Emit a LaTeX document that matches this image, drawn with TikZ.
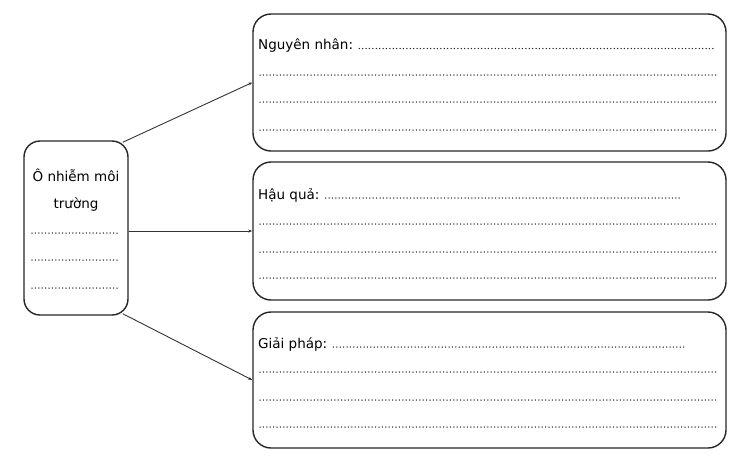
\documentclass[tikz,border=0pt]{standalone}
\usepackage{fontspec}
\setmainfont{DejaVu Sans}
\usetikzlibrary{calc, arrows.meta}
\tikzset{ frame/.style = {draw=black!85, line width=1.4pt, rounded corners=18pt},
  dotrow/.style = {draw=black!85, line width=1.5pt, line cap=round, dash pattern=on 0pt off 3.4pt},
  link/.style = {draw=black!80, line width=0.9pt, -{Stealth[length=4pt,width=3pt]}} }

\begin{document}
\begin{tikzpicture}[x=1pt, y=-1pt, font=\fontsize{13.5}{16}\selectfont]
  \useasboundingbox (0,0) rectangle (756,459);
  \path (76,228) node[frame, rounded corners=16pt, minimum width=104pt, minimum height=174pt] (topic) {}
      (489.5,82.5) node[frame, minimum width=473pt, minimum height=137pt] (cause) {}
      (489.5,231) node[frame, minimum width=473pt, minimum height=138pt] (effect) {}
      (489.5,380) node[frame, minimum width=473pt, minimum height=136pt] (remedy) {};

  % left box
  \node[anchor=base, inner sep=0] (topicA) at (76,181) {Ô nhiễm môi};
  \node[anchor=base, inner sep=0] (topicB) at (76,208) {trường};
  \foreach \y in {233,260,288} \draw[dotrow] (32,\y) -- (117,\y);

  % right boxes
  \node[anchor=base west, inner sep=0] (causetxt) at (258,49.5) {Nguyên nhân:};
  \draw[dotrow] ($(causetxt.base east)+(6,-1)$) -- (714,48.5);
  \foreach \y in {75,102,130} \draw[dotrow] (260,\y) -- (716,\y);

  \node[anchor=base west, inner sep=0] (effecttxt) at (258,199) {Hậu quả:};
  \draw[dotrow] ($(effecttxt.base east)+(6,-1)$) -- (680,198);
  \foreach \y in {224,252,278} \draw[dotrow] (260,\y) -- (716,\y);

  \node[anchor=base west, inner sep=0] (remedytxt) at (258,348) {Giải pháp:};
  \draw[dotrow] ($(remedytxt.base east)+(6,-1)$) -- (687,347);
  \foreach \y in {372,400,427} \draw[dotrow] (260,\y) -- (716,\y);

  \coordinate (topicNE) at ($(topic.north east)+(-6,2)$);
  \coordinate (topicSE) at ($(topic.south east)+(-6,-2)$);
  \draw[link] (topicNE) -- (cause.west);
  \draw[link] (topic.east |- effect.west) -- (effect.west);
  \draw[link] (topicSE) -- (remedy.west);
\end{tikzpicture}
\end{document}
